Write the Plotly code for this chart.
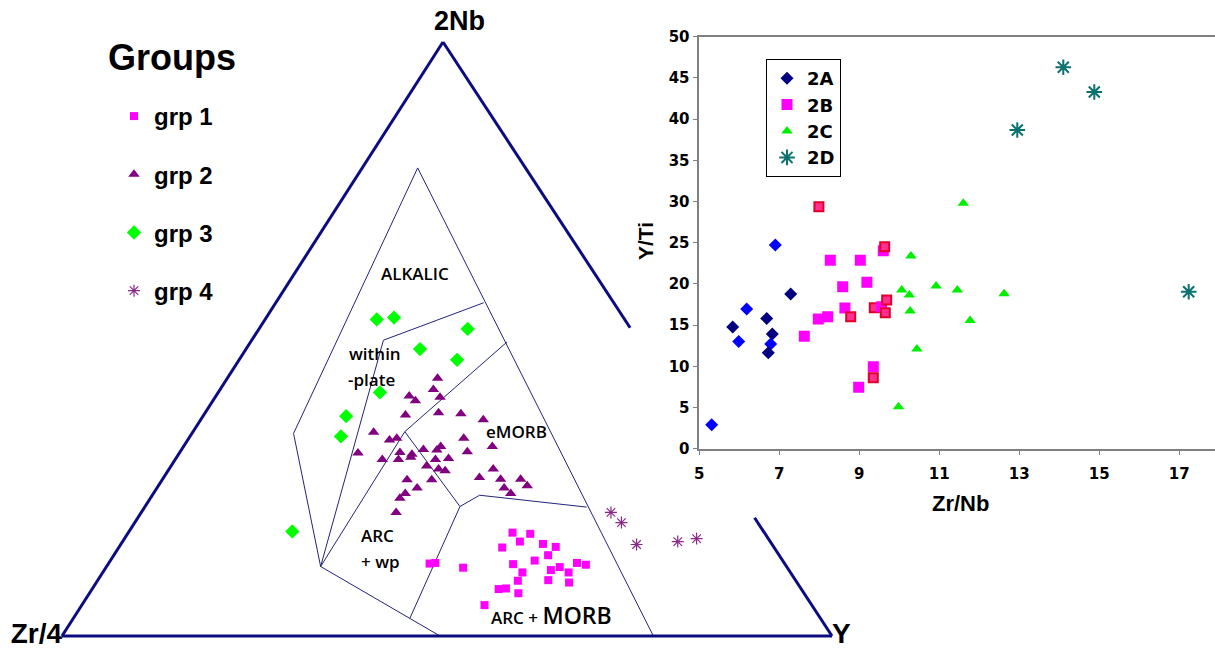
import plotly.graph_objects as go

# ---------------- Ternary diagram data (Zr/4 - 2Nb - Y, in %) ----------------
# Zr/4 = 100 - 2Nb - Y
grp1_nb = [17.4, 17.2, 15.9, 15.5, 15.0, 14.9, 13.6, 12.7, 12.1, 12.3, 12.0, 11.6, 11.1,
           10.7, 10.7, 12.2, 12.3, 11.5, 9.3, 9.4, 9.0, 7.9, 8.0, 7.2, 5.2]
grp1_y = [49.9, 52.3, 51.6, 54.8, 56.7, 49.8, 56.4, 55.1, 52.6, 60.8, 62.1, 58.9, 58.0,
          60.5, 54.5, 41.7, 42.4, 46.4, 54.6, 58.5, 61.4, 52.8, 53.7, 55.7, 52.3]

grp2_nb = [43.4, 41.5, 40.4, 39.6, 40.2, 37.2, 37.6, 37.4, 36.4, 34.3, 33.0, 33.3, 30.8, 29.7,
           30.9, 29.7, 30.6, 30.1, 31.4, 31.3, 31.9, 29.7, 29.9, 33.3, 31.0, 31.9, 28.6, 28.1,
           27.8, 26.3, 26.3, 24.9, 24.0, 23.2, 20.8, 26.7, 28.1, 26.4, 24.9, 24.0, 26.4, 25.3]
grp2_y = [27.3, 27.7, 25.1, 26.3, 29.2, 26.2, 30.3, 33.3, 36.7, 23.5, 26.2, 27.0, 23.2, 26.9,
          28.6, 29.0, 30.3, 30.4, 31.4, 33.2, 33.4, 33.8, 35.4, 35.7, 37.3, 40.1, 33.2, 35.0,
          36.0, 31.8, 35.0, 33.8, 32.7, 32.4, 33.1, 41.0, 42.1, 43.9, 45.1, 46.4, 46.5, 47.9]

grp3_nb = [53.3, 53.6, 51.7, 48.3, 46.5, 41.0, 37.0, 33.6, 17.6]
grp3_y = [14.5, 16.6, 27.1, 22.6, 28.3, 21.0, 18.6, 19.6, 21.2]

grp4_nb = [20.8, 19.1, 15.4, 15.9, 16.4]
grp4_y = [61.0, 63.2, 67.0, 72.1, 74.3]

# field boundary nodes (2Nb %, Y %)
nodes = {
    "A": (78.8, 7.2), "B": (34.1, 13.2), "C": (11.7, 27.8), "M": (3.0, 43.7),
    "D": (0.0, 49.1), "E": (0.0, 76.8), "F": (49.8, 17.1), "G": (56.1, 27.0),
    "H": (34.4, 27.5), "I": (49.5, 33.3), "J": (21.8, 40.9), "K": (23.7, 42.5),
    "L": (21.7, 57.4),
}
field_paths = [["A", "B", "C", "M", "D"], ["A", "E"], ["F", "G"], ["F", "C"],
               ["C", "H"], ["H", "I"], ["H", "J"], ["J", "K", "L"], ["J", "M"]]

# outer triangle edges (2Nb %, Y %); right edge partly hidden behind the inset chart
outer_paths = [[(0, 0), (100, 0)], [(0, 0), (0, 100)],
               [(100, 0), (51.9, 48.1)], [(19.9, 80.1), (0, 100)]]

field_labels = [("ALKALIC", 61.1, 15.6), ("within", 47.5, 17.2), ("-plate", 43.1, 18.9),
                ("eMORB", 34.5, 41.9), ("ARC", 17.0, 32.5), ("+ wp", 12.6, 35.1)]

# ---------------- Inset scatter data (Zr/Nb vs Y/Ti) ----------------
a_x = [5.835, 5.31, 5.985, 6.185, 6.685, 6.825, 6.785, 6.725, 6.9, 7.285]
a_y = [14.77, 2.9, 13.0, 16.95, 15.8, 13.92, 12.7, 11.65, 24.72, 18.77]
a_dark = [1, 0, 0, 0, 1, 1, 0, 1, 0, 1]

b_x = [7.625, 7.99, 7.975, 8.21, 8.275, 8.585, 8.64, 8.785, 8.985, 9.025, 9.19, 9.35, 9.35,
       9.375, 9.56, 9.6, 9.635, 9.685, 9.65]
b_y = [13.64, 29.37, 15.74, 16.02, 22.86, 19.66, 17.08, 16.02, 7.45, 22.86, 20.19, 9.95, 8.62,
       17.11, 17.23, 24.03, 24.51, 18.05, 16.5]
b_red = [0, 1, 0, 0, 0, 0, 0, 1, 0, 0, 0, 0, 1, 1, 0, 0, 1, 1, 1]

c_x = [10.29, 10.06, 10.25, 10.27, 10.44, 9.98, 11.6, 10.92, 11.45, 12.62, 11.77]
c_y = [23.4, 19.25, 18.65, 16.7, 12.1, 5.1, 29.8, 19.75, 19.25, 18.8, 15.55]

d_x = [14.1, 14.875, 12.95, 17.235]
d_y = [46.29, 43.29, 38.68, 19.05]

x_ticks = [5, 7, 9, 11, 13, 15, 17]

# ---------------- helpers ----------------
K = 381 / 770  # horizontal offset of the 2Nb apex in the drawn triangle


def tern_x(nb, y):
    return [yy + K * n for n, yy in zip(nb, y)]


NAVY = "#0c0c80"
BIG = "Arial, Liberation Sans, sans-serif"
WIDE = "DejaVu Sans, sans-serif"
LBL = "Open Sans, sans-serif"

fig = go.Figure()

# field lines
fx, fy = [], []
for path in field_paths:
    nb = [nodes[p][0] for p in path]
    yy = [nodes[p][1] for p in path]
    fx += tern_x(nb, yy) + [None]
    fy += nb + [None]
fig.add_trace(go.Scatter(x=fx, y=fy, mode="lines", line=dict(color="#23237a", width=1),
                         showlegend=False, hoverinfo="skip"))

ox, oy = [], []
for path in outer_paths:
    nb = [p[0] for p in path]
    yy = [p[1] for p in path]
    ox += tern_x(nb, yy) + [None]
    oy += nb + [None]
fig.add_trace(go.Scatter(x=ox, y=oy, mode="lines", line=dict(color=NAVY, width=3),
                         showlegend=False, hoverinfo="skip"))

# vertex labels drawn as text (clipped at the figure edge like the original)
fig.add_trace(go.Scatter(x=tern_x([0], [0]), y=[0], mode="text", text=["<b>Zr/4</b>"],
                         textposition="middle left", showlegend=False, hoverinfo="skip",
                         textfont=dict(family=BIG, size=28, color="black")))
fig.add_trace(go.Scatter(x=tern_x([0], [100]), y=[0], mode="text", text=["<b>Y</b>"],
                         textposition="middle right", showlegend=False, hoverinfo="skip",
                         textfont=dict(family=BIG, size=28, color="black")))

groups = [
    ("grp 1", grp1_nb, grp1_y, dict(symbol="square", size=8, color="#ff00ff")),
    ("grp 2", grp2_nb, grp2_y, dict(symbol="triangle-up", size=10, color="#800080")),
    ("grp 3", grp3_nb, grp3_y, dict(symbol="diamond", size=11, color="#00ff00")),
    ("grp 4", grp4_nb, grp4_y, dict(symbol="asterisk-open", size=10, color="#8b2a8b",
                                    line=dict(color="#8b2a8b", width=1.2))),
]
for name, nb, yy, mk in groups:
    fig.add_trace(go.Scatter(x=tern_x(nb, yy), y=nb, mode="markers", name=name, marker=mk,
                             legend="legend", legendgroup=name))

# inset traces
fig.add_trace(go.Scatter(x=a_x, y=a_y, mode="markers", name="2A", xaxis="x2", yaxis="y2",
                         legend="legend2",
                         marker=dict(symbol="diamond", size=10,
                                     color=["#000080" if d else "#0000ff" for d in a_dark])))
fig.add_trace(go.Scatter(x=b_x, y=b_y, mode="markers", name="2B", xaxis="x2", yaxis="y2",
                         legend="legend2",
                         marker=dict(symbol="square", size=9,
                                     color=["#ff2f8f" if r else "#ff00ff" for r in b_red],
                                     line=dict(color=["#e0002a" if r else "#ff00ff" for r in b_red],
                                               width=2))))
fig.add_trace(go.Scatter(x=c_x, y=c_y, mode="markers", name="2C", xaxis="x2", yaxis="y2",
                         legend="legend2",
                         marker=dict(symbol="triangle-up", size=10, color="#00ee00")))
fig.add_trace(go.Scatter(x=d_x, y=d_y, mode="markers", name="2D", xaxis="x2", yaxis="y2",
                         legend="legend2",
                         marker=dict(symbol="asterisk-open", size=13, color="#0a7070",
                                     line=dict(color="#0a7070", width=2))))

annotations = []
for text, nb, yy in field_labels:
    annotations.append(dict(x=tern_x([nb], [yy])[0], y=nb, xref="x", yref="y", text=text,
                            showarrow=False,
                            font=dict(family=LBL, size=17, color="black", weight=600)))
annotations.append(dict(x=tern_x([3.5], [61.8])[0], y=3.5, xref="x", yref="y",
                        text="ARC + <span style='font-size:23px'>MORB</span>", showarrow=False,
                        font=dict(family=LBL, size=17, color="black", weight=600)))
annotations += [
    dict(x=tern_x([100], [0])[0], y=100, xref="x", yref="y", text="<b>2Nb</b>", showarrow=False,
         xanchor="center", yanchor="bottom", xshift=16, yshift=4,
         font=dict(family=BIG, size=27, color="black")),
    dict(x=172 / 1215, y=1 - 57 / 652, xref="paper", yref="paper", text="<b>Groups</b>",
         showarrow=False, xanchor="center", yanchor="middle",
         font=dict(family=BIG, size=36, color="black")),
    dict(x=646 / 1215, y=1 - 241 / 652, xref="paper", yref="paper", text="<b>Y/Ti</b>",
         showarrow=False, textangle=-90, xanchor="center", yanchor="middle",
         font=dict(family=BIG, size=21, color="black")),
    dict(x=960 / 1215, y=1 - 503 / 652, xref="paper", yref="paper", text="<b>Zr/Nb</b>",
         showarrow=False, xanchor="center", yanchor="middle",
         font=dict(family=BIG, size=22, color="black")),
]

px_per_x = 7.7
px_per_y = 5.94
fig.update_layout(
    width=1215, height=652, margin=dict(l=0, r=0, t=0, b=0, autoexpand=False),
    paper_bgcolor="white", plot_bgcolor="white",
    xaxis=dict(domain=[0, 1], range=[-62 / px_per_x, (1215 - 62) / px_per_x], visible=False),
    yaxis=dict(domain=[0, 1], range=[-(652 - 636) / px_per_y, 636 / px_per_y], visible=False),
    xaxis2=dict(domain=[699.3 / 1215, 1], range=[5, 5 + (1215 - 699.3) / 40], anchor="y2",
                tickvals=x_ticks, showline=True, linecolor="#808080", linewidth=1.5, mirror=True,
                ticks="outside", ticklen=5, tickcolor="#808080", showgrid=False, zeroline=False,
                ticklabelstandoff=6,
                tickfont=dict(family=WIDE, size=15, color="black", weight="bold")),
    yaxis2=dict(domain=[(652 - 448.7) / 652, (652 - 36.7) / 652], range=[0, 50], dtick=5,
                anchor="x2", showline=True, linecolor="#808080", linewidth=1.5,
                ticks="outside", ticklen=5, tickcolor="#808080", showgrid=False, zeroline=False,
                tickfont=dict(family=WIDE, size=15, color="black", weight="bold")),
    legend=dict(x=114 / 1215, y=1 - 94 / 652, xanchor="left", yanchor="top",
                bgcolor="rgba(0,0,0,0)", tracegroupgap=24,
                font=dict(family=BIG, size=24, color="black", weight="bold")),
    legend2=dict(x=766 / 1215, y=1 - 59 / 652, xanchor="left", yanchor="top",
                 bgcolor="white", bordercolor="black", borderwidth=1,
                 font=dict(family=WIDE, size=18, color="black", weight="bold")),
    annotations=annotations,
)

fig.write_html("out.html")
